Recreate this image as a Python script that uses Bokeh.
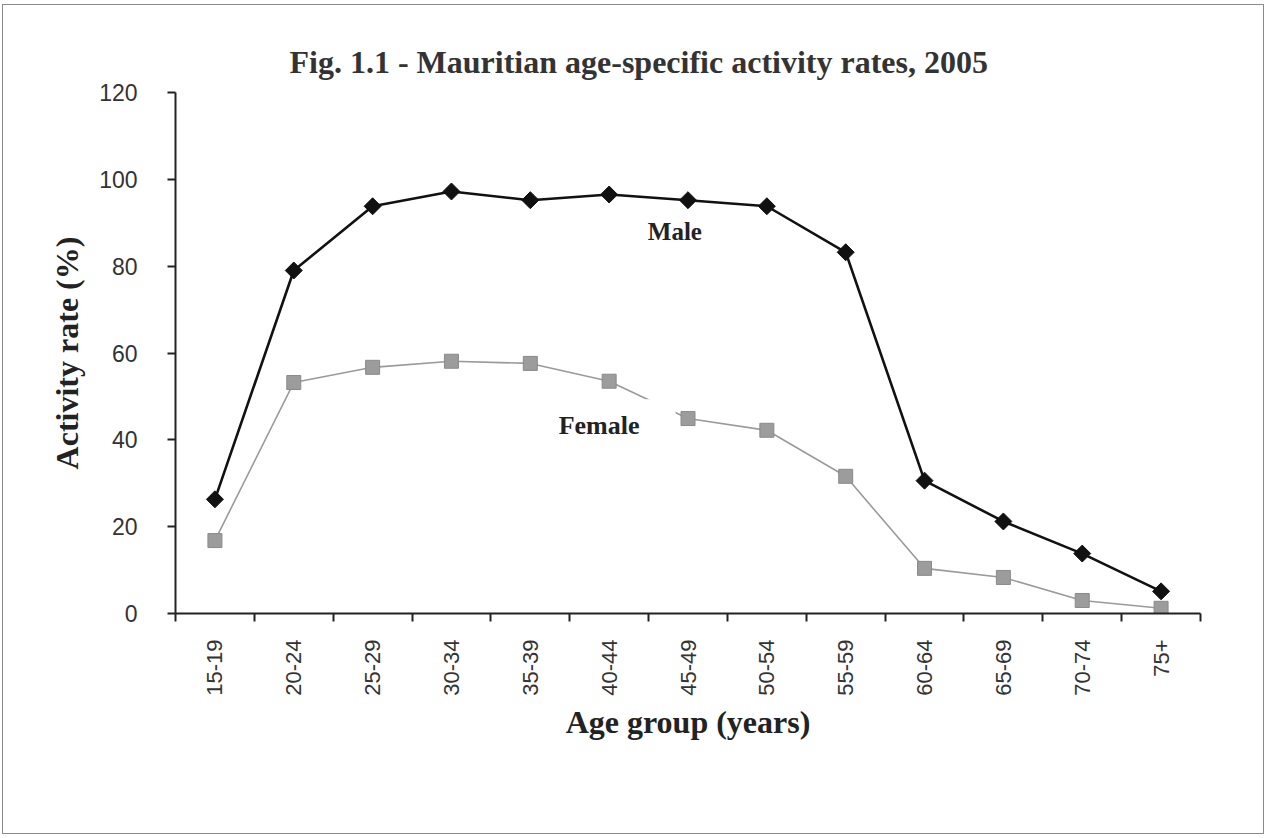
import math
from bokeh.plotting import figure
from bokeh.models import Range1d, FixedTicker, Label, ColumnDataSource
from bokeh.layouts import column
from bokeh.embed import file_html
from bokeh.resources import INLINE

age_groups = ["15-19", "20-24", "25-29", "30-34", "35-39", "40-44", "45-49",
              "50-54", "55-59", "60-64", "65-69", "70-74", "75+"]
male = [26.3, 79.0, 93.8, 97.2, 95.2, 96.5, 95.2, 93.8, 83.2, 30.6, 21.2, 13.8, 5.1]
female = [16.8, 53.2, 56.7, 58.1, 57.6, 53.5, 44.9, 42.2, 31.6, 10.4, 8.3, 3.0, 1.2]
y_ticks = [0, 20, 40, 60, 80, 100, 120]

xpos = [i + 0.5 for i in range(len(age_groups))]
src = ColumnDataSource(dict(x=xpos, male=male, female=female, cat=age_groups))

SERIF = "Liberation Serif"
SANS = "Liberation Sans"

p = figure(width=1260, height=828, output_backend="svg", toolbar_location=None,
           x_range=Range1d(0, len(age_groups)), y_range=Range1d(0, 120),
           min_border_left=172, min_border_right=63, min_border_top=87, min_border_bottom=220)
p.outline_line_color = None
p.xgrid.visible = False
p.ygrid.visible = False
p.background_fill_color = "white"
p.border_fill_color = "white"

p.title.text = "Fig. 1.1 - Mauritian age-specific activity rates, 2005"
p.title.text_font = SERIF
p.title.text_font_style = "bold"
p.title.text_font_size = "32px"
p.title.text_color = "#333333"
p.title.align = "left"
p.title.offset = 114
p.title.standoff = 25

# x axis
p.xaxis.ticker = FixedTicker(ticks=xpos, minor_ticks=list(range(len(age_groups) + 1)))
p.xaxis.major_label_overrides = {x: c for x, c in zip(xpos, age_groups)}
p.xaxis.major_label_orientation = math.pi / 2
p.xaxis.major_tick_out = 0
p.xaxis.major_tick_in = 0
p.xaxis.minor_tick_out = 8
p.xaxis.minor_tick_in = 0
p.xaxis.minor_tick_line_color = "#222222"
p.xaxis.minor_tick_line_width = 2
p.xaxis.major_label_standoff = 18
p.xaxis.axis_label = "Age group (years)"
p.xaxis.axis_label_standoff = 5

# y axis
p.yaxis.ticker = FixedTicker(ticks=y_ticks)
p.yaxis.minor_tick_line_color = None
p.yaxis.major_tick_out = 8
p.yaxis.major_tick_in = 0
p.yaxis.major_tick_line_width = 2
p.yaxis.major_tick_line_color = "#222222"
p.yaxis.major_label_standoff = 30
p.yaxis.axis_label = "Activity rate (%)"
p.yaxis.axis_label_standoff = 11

for ax in (p.xaxis, p.yaxis):
    ax.axis_line_color = "#222222"
    ax.axis_line_width = 2
    ax.major_label_text_font = SANS
    ax.major_label_text_color = "#333333"
    ax.axis_label_text_font = SERIF
    ax.axis_label_text_font_style = "bold"
    ax.axis_label_text_color = "#222222"
    ax.axis_label_text_font_size = "32px"
p.xaxis.major_label_text_font_size = "22px"
p.yaxis.major_label_text_font_size = "23px"

# series
p.line("x", "female", source=src, line_color="#9a9a9a", line_width=1.6)
p.scatter("x", "female", source=src, marker="square", size=14,
          fill_color="#9c9c9c", line_color="#8a8a8a", line_width=1)
p.line("x", "male", source=src, line_color="#111111", line_width=2.6)
p.scatter("x", "male", source=src, marker="square", angle=math.pi / 4, size=12,
          fill_color="#111111", line_color="#111111")

# labels
p.add_layout(Label(x=5.99, y=88.0, text="Male", text_font=SERIF, text_font_style="bold",
                   text_font_size="25px", text_color="#222222", text_baseline="middle",
                   text_align="left"))
p.add_layout(Label(x=4.86, y=44.6, text="Female", text_font=SERIF, text_font_style="bold",
                   text_font_size="26px", text_color="#222222", text_baseline="middle",
                   text_align="left", background_fill_color="white",
                   padding={"left": 0, "right": 36, "top": 12, "bottom": 0}))

layout = column(p, styles={"border": "1px solid #8a8a8a", "margin-left": "2px", "margin-top": "4px"})
open("out.html", "w").write(file_html(layout, INLINE))
